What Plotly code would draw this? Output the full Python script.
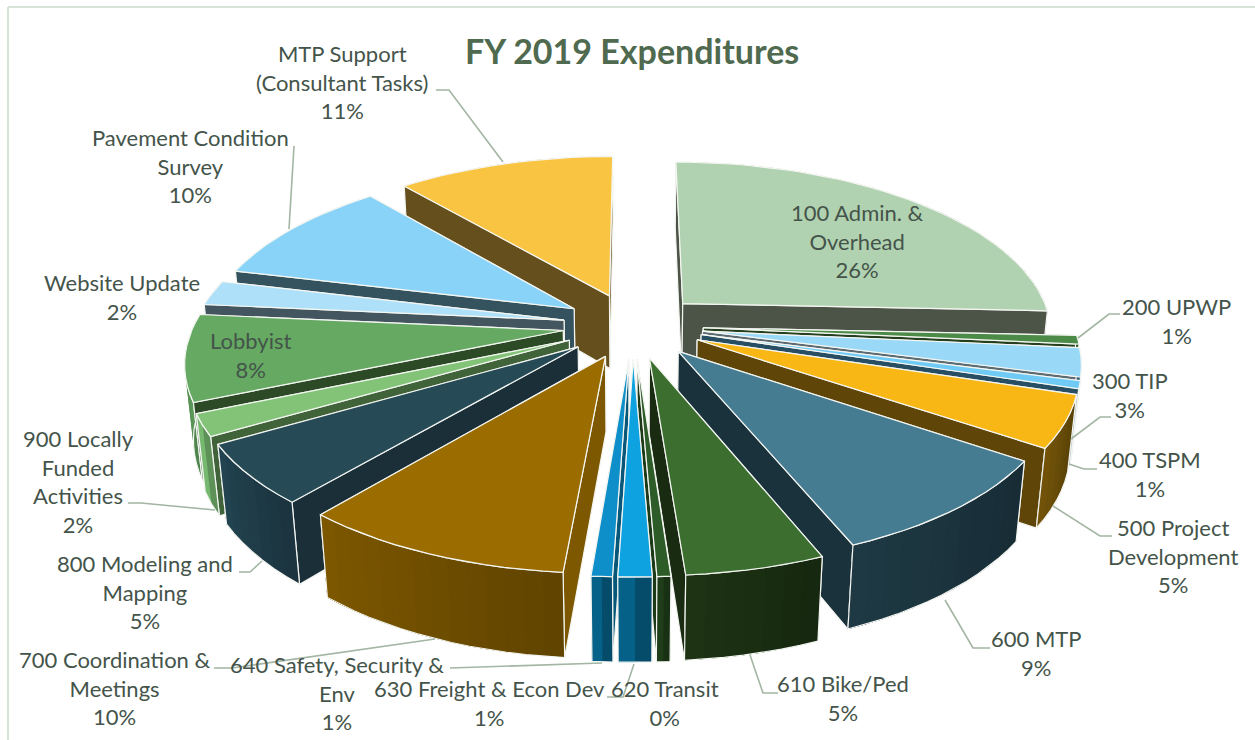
import math
import plotly.graph_objects as go

# --- data ---
categories = ["100 Admin. &<br>Overhead", "200 UPWP", "300 TIP", "400 TSPM", "500 Project<br>Development",
              "600 MTP", "610 Bike/Ped", "620 Transit", "630 Freight & Econ Dev",
              "640 Safety, Security &<br>Env", "700 Coordination &<br>Meetings",
              "800 Modeling and<br>Mapping", "900 Locally<br>Funded<br>Activities", "Lobbyist",
              "Website Update", "Pavement Condition<br>Survey", "MTP Support<br>(Consultant Tasks)"]
values = [25.7, 0.8, 2.6, 0.7, 4.7, 9.35, 5.0, 0.49, 1.2, 0.75, 9.86, 5.45, 2.0, 7.9, 2.3, 10.0, 11.2]
percent_labels = ["26%", "1%", "3%", "1%", "5%", "9%", "5%", "0%", "1%", "1%", "10%", "5%", "2%", "8%", "2%", "10%", "11%"]

# --- styling ---
top_colors = ["#b1d2b0", "#4c8a48", "#99d9f7", "#6fcbf5", "#f9b715", "#457c91", "#3b6e2f", "#2e5c28",
              "#0fa2e0", "#0f8fca", "#9b6c00", "#264b56", "#82c378", "#65a962", "#aee0f9", "#88d3f7", "#fac443"]
outer_colors = ["#5a6a55", "#2c5226", "#3f6d82", "#3f7c98", "#654a08", "#1b333d", "#1a2e12", "#1c3716",
                "#06577a", "#06577a", "#6f4e00", "#1f3c48", "#6aa564", "#5a9558", "#7ba0b2", "#5f95ae", "#8a6c22"]
radial_colors = ["#4c5447", "#26401f", "#5d6b73", "#274e62", "#5f4508", "#1a323c", "#192c11", "#1d3a18",
                 "#06577a", "#06577a", "#7d5800", "#1a2f38", "#41633a", "#2c4a26", "#43565f", "#34535f", "#654f1c"]
radius_scale = [1, 1, 1, 1, 1, 0.99, 1, 1, 1, 1, 1, 1, 1, 1, 1, 1, 1]
ink = "#44544a"
leader = "#a3b5a3"
font = "Lato, Carlito, sans-serif"

label_x = [857, 1176, 1130, 1150, 1173, 1036, 843, 665, 489, 337, 115, 145, 78, 250, 122, 190, 342]
label_y = [241, 321, 395, 474, 556, 653, 698, 703, 703, 693, 688, 592, 481, 355, 297, 166, 82]
leaders = [None,
           [(1120, 314), (1109, 314), (1078, 338)],
           [(1111, 417), (1100, 417), (1071, 439)],
           [(1097, 469), (1084, 469), (1069, 464)],
           [(1112, 536), (1100, 536), (1053, 506)],
           [(990, 648), (973, 648), (945, 600)],
           [(778, 693), (763, 693), (750, 655)],
           [(607, 697), (623, 697), (634, 664)],
           None,
           [(450, 668), (602, 663)],
           [(214, 668), (232, 668), (435, 639)],
           [(239, 572), (250, 572), (262, 561)],
           [(128, 503), (141, 503), (215, 510)],
           None, None,
           [(294, 146), (289, 229)],
           [(436, 90), (449, 90), (503, 162)]]

# --- 3-D view of the exploded pie ---
TILT = math.radians(27.5)
DIST = 5.5
FOCAL = 2034
CX, CY = 633, 325.5
EXPLODE = 0.19
HEIGHT = 0.23


def project(x, y, z):
    w = DIST - y * math.cos(TILT) - z * math.sin(TILT)
    return CX + FOCAL * x / w, CY + FOCAL * (y * math.sin(TILT) - z * math.cos(TILT)) / w


def shade(color, f):
    r, g, b = (int(color[i:i + 2], 16) for i in (1, 3, 5))
    return "#%02x%02x%02x" % tuple(min(255, int(c * f)) for c in (r, g, b))


def polygon(pts, fill, line="#f4f6f2", width=1.2):
    xs = [p[0] for p in pts] + [pts[0][0]]
    ys = [p[1] for p in pts] + [pts[0][1]]
    return go.Scatter(x=xs, y=ys, mode="lines", fill="toself", fillcolor=fill,
                      line=dict(color=line, width=width), hoverinfo="skip", showlegend=False)


total = sum(values)
slices = []
start = 0.0
for i, v in enumerate(values):
    a0 = start / total * 2 * math.pi
    a1 = (start + v) / total * 2 * math.pi
    start += v
    slices.append((i, a0, a1))


def mid_y(s):
    return -math.cos((s[1] + s[2]) / 2) * (EXPLODE + 0.6)


fig = go.Figure()
for i, a0, a1 in sorted(slices, key=mid_y):
    mid = (a0 + a1) / 2
    ox, oy = EXPLODE * math.sin(mid), -EXPLODE * math.cos(mid)
    n = max(2, int((a1 - a0) / math.radians(2.5)))
    r = radius_scale[i]
    arc = [(ox + r * math.sin(a0 + (a1 - a0) * k / n), oy - r * math.cos(a0 + (a1 - a0) * k / n)) for k in range(n + 1)]

    def face(p, q):
        return [project(p[0], p[1], 0), project(q[0], q[1], 0),
                project(q[0], q[1], -HEIGHT), project(p[0], p[1], -HEIGHT)]

    def band(points):
        return ([project(p[0], p[1], 0) for p in points] +
                [project(p[0], p[1], -HEIGHT) for p in reversed(points)])

    apex = (ox, oy)
    r0 = face(apex, arc[0])
    r1 = face(apex, arc[-1])
    outer_y = sum(p[1] for p in arc) / len(arc)
    layered = sorted([((apex[1] + arc[0][1]) / 2, "r", r0),
                      ((apex[1] + arc[-1][1]) / 2, "r", r1),
                      (outer_y, "o", None)], key=lambda t: t[0])
    for _, kind, pts in layered:
        if kind == "r":
            fig.add_trace(polygon(pts, radial_colors[i]))
        else:
            # each band runs to the end of the arc, the next one paints over it: no seams
            for k in range(n):
                f = 0.88 + 0.24 * k / max(1, n - 1)
                c = shade(outer_colors[i], f)
                fig.add_trace(polygon(band(arc[k:]), c, line=c, width=0))
            outline = band(arc)
            xs = [p[0] for p in outline] + [outline[0][0]]
            ys = [p[1] for p in outline] + [outline[0][1]]
            fig.add_trace(go.Scatter(x=xs, y=ys, mode="lines", line=dict(color="#f4f6f2", width=1.2),
                                     hoverinfo="skip", showlegend=False))
    top = [project(apex[0], apex[1], 0)] + [project(p[0], p[1], 0) for p in arc]
    fig.add_trace(polygon(top, top_colors[i]))

for path in leaders:
    if path:
        fig.add_trace(go.Scatter(x=[p[0] for p in path], y=[p[1] for p in path], mode="lines",
                                 line=dict(color=leader, width=1.6), hoverinfo="skip", showlegend=False))

for name, pct, x, y in zip(categories, percent_labels, label_x, label_y):
    fig.add_annotation(x=x, y=y, xref="x", yref="y", text=f"{name}<br>{pct}", showarrow=False,
                       align="center", font=dict(family=font, size=22, color=ink))

fig.add_annotation(x=632, y=50, xref="x", yref="y", text="<b>FY 2019 Expenditures</b>", showarrow=False,
                   font=dict(family=font, size=34, color="#4f6a4f"))

fig.update_layout(
    width=1255, height=740, margin=dict(l=0, r=0, t=0, b=0), autosize=False,
    paper_bgcolor="white", plot_bgcolor="white", showlegend=False,
    xaxis=dict(range=[0, 1255], visible=False, fixedrange=True),
    yaxis=dict(range=[740, 0], visible=False, fixedrange=True),
    shapes=[dict(type="line", x0=8, x1=8, y0=7, y1=740, line=dict(color="#d8e3d8", width=2)),
            dict(type="line", x0=8, x1=1255, y0=7, y1=7, line=dict(color="#d8e3d8", width=2))],
)
fig.write_html("out.html", config={"displayModeBar": False},
               post_script="document.body.style.margin='0';document.body.style.overflow='hidden';")
